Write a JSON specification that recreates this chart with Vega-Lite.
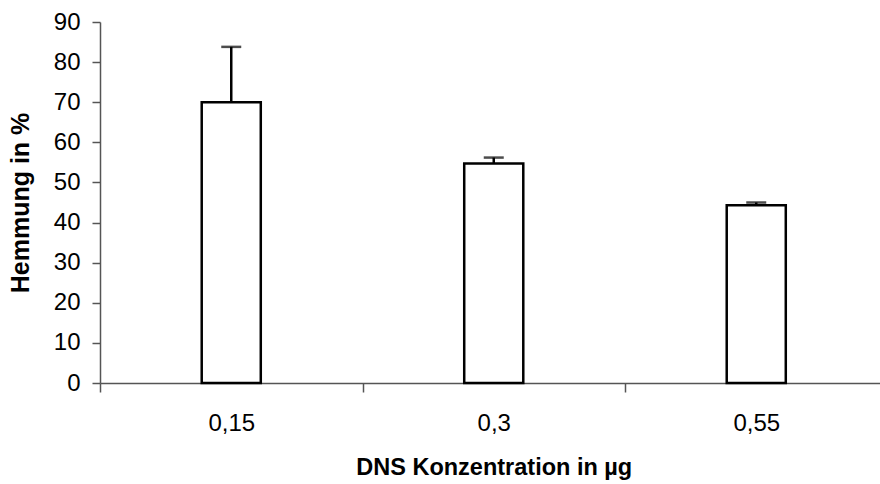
{
  "$schema": "https://vega.github.io/schema/vega-lite/v6.json",
  "autosize": {"type": "none"},
  "padding": {"left": 100, "top": 22, "right": 0, "bottom": 101},
  "width": 780,
  "height": 361,
  "background": "white",
  "config": {
    "view": {"stroke": null},
    "font": "Liberation Sans",
    "axis": {"grid": false, "domainColor": "#555", "tickColor": "#555", "domainWidth": 1.5, "tickWidth": 1.5, "labelFont": "Liberation Sans", "titleFont": "Liberation Sans", "labelColor": "black", "titleColor": "black"}
  },
  "data": {
    "values": [
      {"konz": "0,15", "hemmung": 70.0, "upper": 83.8},
      {"konz": "0,3", "hemmung": 54.7, "upper": 56.2},
      {"konz": "0,55", "hemmung": 44.3, "upper": 45.0}
    ]
  },
  "encoding": {
    "x": {
      "field": "konz",
      "type": "nominal",
      "sort": null,
      "scale": {"paddingInner": 0, "paddingOuter": 0, "range": [0, 787.5]},
      "axis": {"title": "DNS Konzentration in µg", "labelAngle": 0, "tickBand": "extent", "tickSize": 9, "labelFontSize": 24, "labelPadding": 19, "titleFontSize": 23.5, "titleFontWeight": "bold", "titlePadding": 20}
    }
  },
  "layer": [
    {
      "mark": {"type": "bar", "fill": "white", "stroke": "black", "strokeWidth": 2.5, "width": {"band": 0.225}},
      "encoding": {
        "y": {
          "field": "hemmung",
          "type": "quantitative",
          "scale": {"domain": [0, 90], "nice": false},
          "axis": {"title": "Hemmung in %", "values": [0,10,20,30,40,50,60,70,80,90], "tickSize": 8, "labelFontSize": 24, "labelPadding": 12, "titleFontSize": 25, "titleFontWeight": "bold", "titlePadding": 20}
        }
      }
    },
    {
      "mark": {"type": "rule", "color": "black", "strokeWidth": 2.5},
      "encoding": {"y": {"field": "hemmung", "type": "quantitative"}, "y2": {"field": "upper"}}
    },
    {
      "mark": {"type": "tick", "color": "black", "thickness": 2.5, "size": 20, "orient": "horizontal"},
      "encoding": {"y": {"field": "upper", "type": "quantitative"}}
    }
  ]
}
